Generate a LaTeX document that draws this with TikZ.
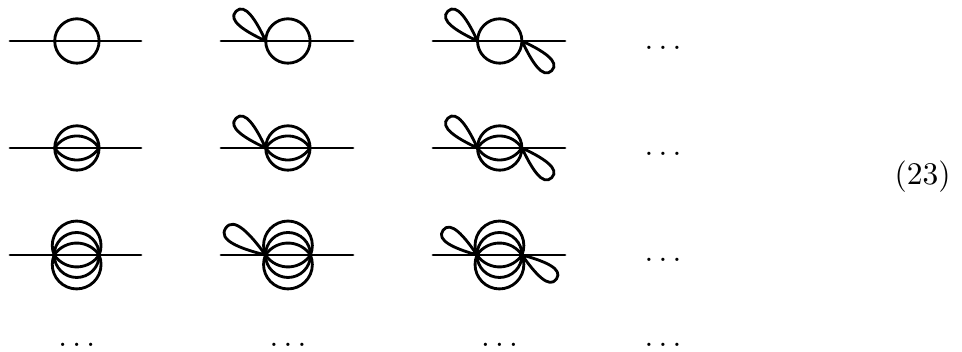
\documentclass[tikz,border=0pt]{standalone}
\usepackage{tikz}
\tikzset{
    prop/.style={line width=0.9pt, line cap=round, line join=round},
    dots/.style={anchor=base, inner sep=0pt},
}
% Lobe at a vertex: vertex, direction, length
\newcommand{\lobe}[3]{
    \draw[prop] (#1) .. controls +(#2+20:0.55*#3) and +(#2+90:0.3*#3) .. +(#2:#3)
        .. controls +(#2-90:0.3*#3) and +(#2-20:0.55*#3) .. (#1);
}

\begin{document}
\begin{tikzpicture}[x=0.3175pt, y=0.3175pt]
    \useasboundingbox (0,0) rectangle (962,352);

    % Vertices, first row
    \coordinate (a1) at (10,311);   \coordinate (l1) at (54.7,311);  \coordinate (r1) at (98.7,311);  \coordinate (b1) at (141,311);
    \coordinate (a2) at (221,311);  \coordinate (l2) at (265.7,311); \coordinate (r2) at (310.7,311); \coordinate (b2) at (353,311);
    \coordinate (a3) at (433,311);  \coordinate (l3) at (477.5,311); \coordinate (r3) at (522,311);   \coordinate (b3) at (565,311);

    % Vertices, second row
    \coordinate (a4) at (10,204);   \coordinate (l4) at (54.7,204);  \coordinate (r4) at (98.7,204);  \coordinate (b4) at (141,204);
    \coordinate (a5) at (221,204);  \coordinate (l5) at (265.7,204); \coordinate (r5) at (310.7,204); \coordinate (b5) at (353,204);
    \coordinate (a6) at (433,204);  \coordinate (l6) at (477.5,204); \coordinate (r6) at (522,204);   \coordinate (b6) at (565,204);

    % Vertices, third row
    \coordinate (a7) at (10,97);    \coordinate (l7) at (54.2,97);   \coordinate (r7) at (99.2,97);   \coordinate (b7) at (141,97);
    \coordinate (a8) at (221,97);   \coordinate (l8) at (265.5,97);  \coordinate (r8) at (310.5,97);  \coordinate (b8) at (353,97);
    \coordinate (a9) at (433,97);   \coordinate (l9) at (477,97);    \coordinate (r9) at (522,97);    \coordinate (b9) at (565,97);

    % Horizontal lines
    \foreach \i in {1,...,9}
        \draw[prop] (a\i) -- (b\i);

    % One circle
    \foreach \i in {1,2,3} {
        \draw[prop] (l\i) arc[start angle=180, end angle=0, radius=22.2];
        \draw[prop] (l\i) arc[start angle=180, end angle=360, radius=22.2];
    }

    % Two arcs each side
    \foreach \i in {4,5,6} {
        \draw[prop] (l\i) arc[start angle=180, end angle=0, radius=22.2];
        \draw[prop] (l\i) arc[start angle=180, end angle=360, radius=22.2];
        \draw[prop] (l\i) arc[start angle=147, end angle=33, radius=26.4];
        \draw[prop] (l\i) arc[start angle=213, end angle=327, radius=26.4];
    }

    % Three arcs each side
    \foreach \i in {7,8,9} {
        \draw[prop] (l\i) arc[start angle=203, end angle=-23, radius=24.4];
        \draw[prop] (l\i) arc[start angle=157, end angle=383, radius=24.4];
        \draw[prop] (l\i) arc[start angle=180, end angle=0, radius=22.5];
        \draw[prop] (l\i) arc[start angle=180, end angle=360, radius=22.5];
        \draw[prop] (l\i) arc[start angle=146, end angle=34, radius=27.1];
        \draw[prop] (l\i) arc[start angle=214, end angle=326, radius=27.1];
    }

    % Left loops
    \lobe{l2}{135}{42}
    \lobe{l3}{135}{42}
    \lobe{l5}{135}{42}
    \lobe{l6}{135}{42}
    \lobe{l8}{146}{48}
    \lobe{l9}{144}{42}

    % Right loops
    \lobe{r3}{-45}{42}
    \lobe{r6}{-45}{42}
    \lobe{r9}{-35}{42}

    % Dots
    \node[dots] (d1) at (663,302.5) {$\ldots$};
    \node[dots] (d2) at (663,196) {$\ldots$};
    \node[dots] (d3) at (663,90) {$\ldots$};
    \node[dots] (d4) at (76.7,5.5) {$\ldots$};
    \node[dots] (d5) at (288,5.5) {$\ldots$};
    \node[dots] (d6) at (499.5,5.5) {$\ldots$};
    \node[dots] (d7) at (663,5.5) {$\ldots$};

    % Equation number
    \node[dots] (eqno) at (922.5,167) {(23)};
\end{tikzpicture}
\end{document}
